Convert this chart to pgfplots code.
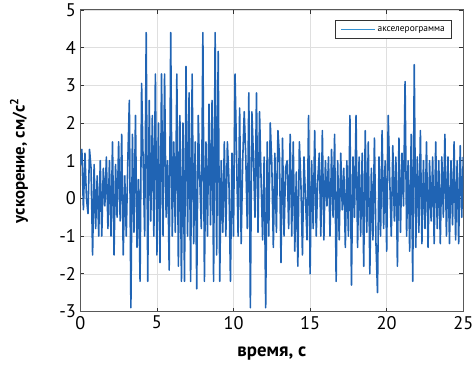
\documentclass[border=0pt]{standalone}
\usepackage{pgfplots}
\pgfplotsset{compat=1.18}
\usepackage{fontspec}
\setmainfont{PT Sans}
\definecolor{sig}{RGB}{32,100,180}
\definecolor{leg}{RGB}{50,145,210}
\begin{document}
\begin{tikzpicture}
\begin{axis}[
  scale only axis,
  width=386bp, height=304bp,
  xmin=0, xmax=25, ymin=-3, ymax=5,
  xtick={0,5,10,15,20,25},
  ytick={-3,-2,-1,0,1,2,3,4,5},
  yticklabels={-3,-2,-1,0,1,2,3,4,5},
  xticklabels={0,5,10,15,20,25},
  tick label style={font=\fontsize{18.5}{18.5}\selectfont, text=black},
  yticklabel style={xshift=-1bp},
  xticklabel style={yshift=-1bp},
  tick align=inside,
  tick style={black!80, line width=0.8pt},
  major tick length=4pt,
  axis line style={black!65, line width=1pt},
  grid=major,
  grid style={gray!25, line width=0.5pt},
  xlabel={\textbf{время, с}},
  ylabel={\textbf{ускорение, см/с\textsuperscript{2}}},
  xlabel style={font=\fontsize{19}{19}\selectfont, at={(axis description cs:0.5,-0.141)}, anchor=center},
  ylabel style={font=\fontsize{17}{17}\selectfont, at={(axis description cs:-0.16,0.5)}, anchor=center},
  legend style={at={(0.971,0.967)}, anchor=north east, draw=black!80, line width=0.9pt,
    font=\fontsize{9.5}{9.5}\selectfont, inner xsep=5pt, inner ysep=4pt, legend cell align=left},
  legend image code/.code={\draw[draw=leg, solid, line width=1.6pt] (0cm,0cm) -- (1.2cm,0cm);},
]
\addplot[sig, line width=1.6pt, line join=round] coordinates {
(0.0,0.9)(0.1,1.3)(0.2,-0.3)(0.3,1.2)(0.4,0.0)(0.5,-0.4)(0.6,1.3)(0.7,0.8)(0.8,-1.5)(0.9,0.9)
(1.0,-0.8)(1.1,0.6)(1.2,-1.0)(1.3,1.0)(1.4,-1.0)(1.5,0.8)(1.6,-0.2)(1.7,1.1)(1.8,-0.8)(1.9,1.0)
(2.0,-1.0)(2.1,1.5)(2.2,-1.5)(2.3,0.9)(2.4,-0.5)(2.5,1.5)(2.6,-0.6)(2.7,1.7)(2.8,-1.5)(2.9,0.6)
(3.0,-1.0)(3.1,1.0)(3.2,2.6)(3.3,-2.9)(3.4,1.7)(3.5,-0.9)(3.6,2.2)(3.7,-1.3)(3.8,0.5)(3.9,-2.2)
(4.0,3.05)(4.1,1.0)(4.2,-1.0)(4.3,4.4)(4.4,-2.2)(4.5,2.6)(4.6,-0.6)(4.7,2.2)(4.8,-1.0)(4.9,3.3)
(5.0,-1.5)(5.1,2.0)(5.2,-1.7)(5.3,3.3)(5.4,-1.0)(5.5,3.3)(5.6,-0.5)(5.7,1.0)(5.8,-1.9)(5.9,4.4)
(6.0,-1.0)(6.1,1.5)(6.2,-0.9)(6.3,3.3)(6.4,-1.8)(6.5,2.2)(6.6,-2.2)(6.7,2.0)(6.8,-2.2)(6.9,3.5)
(7.0,-1.0)(7.1,2.8)(7.2,-2.2)(7.3,3.3)(7.4,-1.2)(7.5,1.5)(7.6,-2.4)(7.7,2.2)(7.8,0.5)(7.9,-0.8)
(8.0,4.4)(8.1,-2.2)(8.2,1.5)(8.3,-1.0)(8.4,2.5)(8.5,-0.7)(8.6,2.6)(8.7,-2.2)(8.8,4.4)(8.9,-1.5)
(9.0,3.9)(9.1,-2.2)(9.2,1.0)(9.3,-0.9)(9.4,1.5)(9.5,-1.0)(9.6,1.5)(9.7,0.5)(9.8,-2.2)(9.9,1.2)
(10.0,-1.0)(10.1,3.3)(10.2,1.1)(10.3,-1.0)(10.4,2.4)(10.5,-1.2)(10.6,1.0)(10.7,2.3)(10.8,1.1)(10.9,-0.8)
(11.0,2.8)(11.1,-2.9)(11.2,2.3)(11.3,1.1)(11.4,-0.5)(11.5,2.8)(11.6,-0.9)(11.7,2.3)(11.8,0.5)(11.9,-1.1)
(12.0,1.1)(12.1,-2.9)(12.2,1.5)(12.3,-1.0)(12.4,2.0)(12.5,0.9)(12.6,-1.3)(12.7,1.2)(12.8,-0.9)(12.9,1.8)
(13.0,1.1)(13.1,-1.7)(13.2,1.6)(13.3,-1.0)(13.4,0.8)(13.5,1.0)(13.6,-0.8)(13.7,1.7)(13.8,-1.0)(13.9,1.5)
(14.0,-1.4)(14.1,0.7)(14.2,-1.8)(14.3,1.5)(14.4,0.4)(14.5,-1.5)(14.6,1.1)(14.7,0.0)(14.8,-1.1)(14.9,2.2)
(15.0,-2.0)(15.1,1.0)(15.2,-0.8)(15.3,1.8)(15.4,-1.0)(15.5,0.5)(15.6,1.2)(15.7,-1.0)(15.8,1.8)(15.9,-1.1)
(16.0,1.0)(16.1,-0.2)(16.2,1.1)(16.3,-1.0)(16.4,1.3)(16.5,-0.5)(16.6,1.7)(16.7,-2.2)(16.8,1.0)(16.9,-1.1)
(17.0,1.2)(17.1,-0.3)(17.2,0.8)(17.3,-1.3)(17.4,1.0)(17.5,-1.0)(17.6,2.2)(17.7,-2.3)(17.8,1.1)(17.9,-0.5)
(18.0,2.2)(18.1,-1.3)(18.2,1.1)(18.3,-1.0)(18.4,1.2)(18.5,-1.8)(18.6,1.8)(18.7,-0.9)(18.8,1.5)(18.9,-2.0)
(19.0,0.8)(19.1,-1.1)(19.2,1.6)(19.3,-1.2)(19.4,-2.5)(19.5,1.1)(19.6,-1.0)(19.7,1.8)(19.8,-0.8)(19.9,1.0)
(20.0,-1.4)(20.1,2.2)(20.2,0.5)(20.3,-1.0)(20.4,1.4)(20.5,-0.6)(20.6,1.1)(20.7,-1.8)(20.8,1.6)(20.9,-0.9)
(21.0,1.2)(21.1,-0.2)(21.2,3.1)(21.3,-1.0)(21.4,1.0)(21.5,-1.4)(21.6,1.7)(21.7,-2.2)(21.8,3.55)(21.9,-1.3)
(22.0,1.1)(22.1,-0.9)(22.2,1.8)(22.3,-1.2)(22.4,1.0)(22.5,-0.8)(22.6,1.5)(22.7,-1.3)(22.8,1.0)(22.9,-0.6)
(23.0,1.1)(23.1,-1.2)(23.2,1.5)(23.3,-0.8)(23.4,1.0)(23.5,-1.2)(23.6,1.1)(23.7,-0.5)(23.8,1.7)(23.9,-1.0)
(24.0,1.1)(24.1,-1.2)(24.2,1.0)(24.3,-0.7)(24.4,1.5)(24.5,-1.1)(24.6,1.0)(24.7,-1.2)(24.8,1.4)(24.9,-0.5)
(25.0,1.1)
};
\addlegendentry{акселерограмма}
\coordinate (bl) at (axis description cs:-0.2098,-0.2039);
\coordinate (tr) at (axis description cs:1.028,1.0329);
\end{axis}
\pgfresetboundingbox
\path (bl) rectangle (tr);
\end{tikzpicture}
\end{document}
